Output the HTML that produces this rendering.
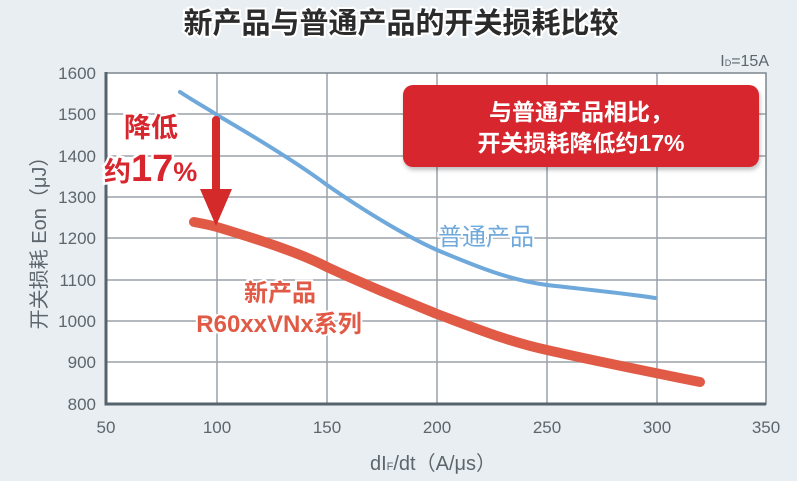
<!DOCTYPE html>
<html><head><meta charset="utf-8"><style>
body{margin:0;background:#e9eef2;width:797px;height:481px;overflow:hidden;font-family:"Liberation Sans","Noto Sans CJK SC",sans-serif}
</style></head><body>
<svg width="797" height="481" xmlns="http://www.w3.org/2000/svg" style="position:absolute;left:0;top:0;font-family:'Liberation Sans','Noto Sans CJK SC',sans-serif">
<defs><filter id="sh" x="-10%" y="-20%" width="120%" height="150%"><feDropShadow dx="1" dy="3" stdDeviation="2" flood-color="#000" flood-opacity="0.25"/></filter></defs>
<rect width="797" height="481" fill="#e9eef2"/>
<text x="401" y="33" text-anchor="middle" font-size="29" font-weight="bold" fill="#2b2b2b" stroke="#fff" stroke-width="4" paint-order="stroke">新产品与普通产品的开关损耗比较</text>
<rect x="106" y="73" width="660" height="331" fill="#fff"/>
<g stroke="#9aa2a8" stroke-width="1.5">
<line x1="217" y1="73" x2="217" y2="404"/><line x1="327" y1="73" x2="327" y2="404"/><line x1="437" y1="73" x2="437" y2="404"/><line x1="547" y1="73" x2="547" y2="404"/><line x1="657" y1="73" x2="657" y2="404"/>
<line x1="106" y1="114" x2="766" y2="114"/><line x1="106" y1="156" x2="766" y2="156"/><line x1="106" y1="197" x2="766" y2="197"/><line x1="106" y1="238" x2="766" y2="238"/><line x1="106" y1="280" x2="766" y2="280"/><line x1="106" y1="321" x2="766" y2="321"/><line x1="106" y1="362" x2="766" y2="362"/>
</g>
<rect x="106" y="73" width="660" height="331" fill="none" stroke="#7b868d" stroke-width="1.5"/>
<polyline points="106,72 106,404 766,404" fill="none" stroke="#55636c" stroke-width="3"/>
<g font-size="17" fill="#5d666c" text-anchor="end">
<text x="96" y="79">1600</text><text x="96" y="120">1500</text><text x="96" y="162">1400</text><text x="96" y="203">1300</text><text x="96" y="244">1200</text><text x="96" y="286">1100</text><text x="96" y="327">1000</text><text x="96" y="368">900</text><text x="96" y="410">800</text>
</g>
<g font-size="17" fill="#5d666c" text-anchor="middle">
<text x="106" y="433">50</text><text x="217" y="433">100</text><text x="327" y="433">150</text><text x="437" y="433">200</text><text x="547" y="433">250</text><text x="657" y="433">300</text><text x="766" y="433">350</text>
</g>
<text x="433" y="470" text-anchor="middle" font-size="20" fill="#5d666c">dI<tspan font-size="11">F</tspan>/dt（A/μs）</text>
<text transform="translate(46,238) rotate(-90)" text-anchor="middle" font-size="20" fill="#5d666c">开关损耗 Eon（μJ）</text>
<text x="769" y="66" text-anchor="end" font-size="16" fill="#5d666c">I<tspan font-size="9">D</tspan>=15A</text>
<path d="M180,92 C200,105 210,110 217,115 C260,140 300,165 327,185 C370,215 410,238 437,250 C480,268 510,280 547,285 C600,291 630,294 655,298" fill="none" stroke="#6fa8da" stroke-width="4" stroke-linecap="round"/>
<path d="M194,222 C205,224 210,225 217,227 C260,240 300,253 327,267 C370,287 410,303 437,314 C480,330 510,342 547,350 C600,362 640,370 700,382" fill="none" stroke="#e05a45" stroke-width="10" stroke-linecap="round"/>
<rect x="403" y="85" width="356" height="82" rx="10" fill="#d7262e" filter="url(#sh)"/>
<text x="581" y="120" text-anchor="middle" font-size="23" font-weight="bold" fill="#fff">与普通产品相比，</text>
<text x="581" y="151" text-anchor="middle" font-size="23" font-weight="bold" fill="#fff">开关损耗降低约17%</text>
<line x1="216" y1="120" x2="216" y2="195" stroke="#d42a2a" stroke-width="8" stroke-linecap="round"/>
<polygon points="200,189 232,189 216,226" fill="#d42a2a"/>
<g fill="#d7262e" font-weight="bold" stroke="#fff" stroke-width="5" paint-order="stroke">
<text x="124" y="137" font-size="27">降低</text>
<text x="104" y="181" font-size="27">约<tspan font-size="38">17</tspan><tspan font-size="27">%</tspan></text>
</g>
<text x="486" y="245" text-anchor="middle" font-size="24" fill="#6fa8da" stroke="#fff" stroke-width="4" paint-order="stroke">普通产品</text>
<g fill="#e05a45" font-weight="bold" font-size="24" text-anchor="middle" stroke="#fff" stroke-width="4" paint-order="stroke">
<text x="280" y="301">新产品</text>
<text x="279" y="332">R60xxVNx系列</text>
</g>
</svg>
</body></html>
